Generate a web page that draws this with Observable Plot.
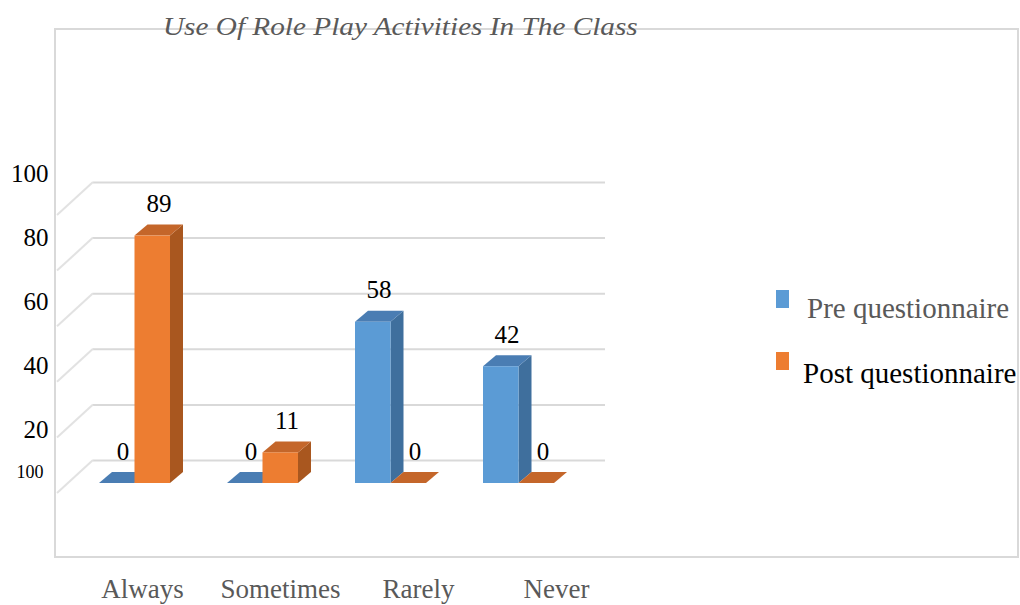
<!DOCTYPE html>
<html>
<head>
<meta charset="utf-8">
<script src="https://cdn.jsdelivr.net/npm/d3@7"></script>
<script src="https://cdn.jsdelivr.net/npm/@observablehq/plot@0.6"></script>
<style>
  body { margin: 0; background: #fff; }
  #wrap { position: relative; width: 1020px; height: 605px; overflow: hidden;
          font-family: "Liberation Serif", "Times New Roman", serif; }
  #box { position: absolute; left: 54px; top: 28px; width: 965px; height: 530px;
         border: 2px solid #d9d9d9; box-sizing: border-box; }
  #main, #axes { position: absolute; left: 0; top: 0; }
  #title { position: absolute; left: 163px; top: 14px; font-size: 26px; line-height: 1;
           font-style: italic; color: #595959; white-space: nowrap;
           transform: scaleX(1.125); transform-origin: 0 0; }
  .sw { position: absolute; width: 13px; height: 18px; }
  .lg { position: absolute; font-size: 29px; line-height: 1; white-space: nowrap;
        font-family: "Liberation Serif", "Times New Roman", serif; }
</style>
</head>
<body>
<div id="wrap">
  <div id="box"></div>
  <div id="main"></div>
  <div id="axes"></div>
  <div id="title"></div>
  <div id="legend"></div>
</div>
<script>
// ---- data ----
const categories = ["Always", "Sometimes", "Rarely", "Never"];
const seriesNames = ["Pre questionnaire", "Post questionnaire"];
const preValues = [0, 0, 58, 42];
const postValues = [89, 11, 0, 0];
const yTicks = [0, 20, 40, 60, 80, 100];
const yTickLabels = ["100", "20", "40", "60", "80", "100"];
const titleText = "Use Of Role Play Activities In The Class";

// ---- styles ----
const serif = '"Liberation Serif", "Times New Roman", serif';
const frontColors = ["#5b9bd5", "#ed7d31"];
const sideColors = ["#3f6f9d", "#a9571f"];
const topColors = ["#4a7db3", "#c4662a"];
const depthX = 13, depthY = -11;

const rows = [];
categories.forEach((c, i) => {
  rows.push({cat: c, s: 0, value: preValues[i]});
  rows.push({cat: c, s: 1, value: postValues[i]});
});

function bandwidthOf(scales) {
  const x = scales.x;
  if (x && typeof x.bandwidth === "function") return x.bandwidth();
  if (scales.scales && scales.scales.x) return scales.scales.x.bandwidth;
  return 0;
}

// side-wall diagonal lines (3D effect), drawn from the y scale
function wallLines(index, scales, values, dims) {
  const g = d3.create("svg:g");
  const x0 = dims.marginLeft;
  for (const t of yTicks) {
    const yy = scales.y(t);
    g.append("line")
      .attr("x1", x0 - 9).attr("y1", yy + 10)
      .attr("x2", x0 + 27).attr("y2", yy - 23)
      .attr("stroke", "#e2e2e2").attr("stroke-width", 2);
  }
  return g.node();
}

// 3D bars drawn through the x (band) and y scales
function bars3d(index, scales, values, dims) {
  const g = d3.create("svg:g");
  const bw = bandwidthOf(scales) / 2;
  const y0 = scales.y(0);
  for (const d of rows) {
    const xl = scales.x(d.cat) + d.s * bw;
    const xr = xl + bw;
    const yt = scales.y(d.value);
    g.append("path")
      .attr("d", `M${xr},${y0}L${xr + depthX},${y0 + depthY}L${xr + depthX},${yt + depthY}L${xr},${yt}Z`)
      .attr("fill", sideColors[d.s]);
    g.append("path")
      .attr("d", `M${xl},${yt}L${xl + depthX},${yt + depthY}L${xr + depthX},${yt + depthY}L${xr},${yt}Z`)
      .attr("fill", topColors[d.s]);
    if (y0 - yt > 0) {
      g.append("rect")
        .attr("x", xl).attr("y", yt).attr("width", bw).attr("height", y0 - yt)
        .attr("fill", frontColors[d.s]);
    }
  }
  return g.node();
}

const chart = Plot.plot({
  width: 1020,
  height: 605,
  marginLeft: 66,
  marginRight: 442,
  marginTop: 205,
  marginBottom: 122,
  x: {type: "band", domain: categories, paddingInner: 0.442, paddingOuter: 0.2055, align: 0.585, axis: null},
  y: {domain: [0, 100], axis: null},
  style: {fontFamily: serif, background: "transparent", overflow: "visible"},
  marks: [
    Plot.ruleY(yTicks, {stroke: "#d9d9d9", strokeWidth: 2, dx: 27, dy: -23}),
    wallLines,
    bars3d,
    Plot.text(rows.filter(d => d.s === 0), {x: "cat", y: "value", text: d => String(d.value), dx: -12, dy: -32, fontSize: 25, fontFamily: serif, fill: "#000"}),
    Plot.text(rows.filter(d => d.s === 1), {x: "cat", y: "value", text: d => String(d.value), dx: 24, dy: -32, fontSize: 25, fontFamily: serif, fill: "#000"})
  ]
});
document.getElementById("main").append(chart);

// tick labels of both axes (overlay with the reference's own label spacing)
const axesPlot = Plot.plot({
  width: 1020,
  height: 605,
  marginLeft: 141,
  marginRight: 464,
  marginTop: 173.5,
  marginBottom: 111,
  x: {type: "point", domain: categories, padding: 0},
  y: {domain: [0, 100]},
  style: {fontFamily: serif, background: "transparent", overflow: "visible"},
  marks: [
    Plot.axisY(yTicks.filter(t => t > 0), {tickSize: 0, tickPadding: 93, fontSize: 25, color: "#000", label: null,
      tickFormat: t => yTickLabels[yTicks.indexOf(t)]}),
    Plot.axisY([0], {tickSize: 0, tickPadding: 98, fontSize: 18, dy: -22, color: "#000", label: null,
      tickFormat: t => yTickLabels[yTicks.indexOf(t)]}),
    Plot.axisX({tickSize: 0, tickPadding: 84, fontSize: 27, color: "#595959", label: null})
  ]
});
document.getElementById("axes").append(axesPlot);

document.getElementById("title").textContent = titleText;

// legend
const legend = document.getElementById("legend");
const legendPos = [{sq: 290, tx: 293.5, left: 807, color: "#595959"}, {sq: 352, tx: 358.5, left: 803, color: "#000"}];
seriesNames.forEach((name, i) => {
  const sw = document.createElement("div");
  sw.className = "sw";
  sw.style.left = "776px";
  sw.style.top = legendPos[i].sq + "px";
  sw.style.background = frontColors[i];
  legend.append(sw);
  const t = document.createElement("div");
  t.className = "lg";
  t.style.left = legendPos[i].left + "px";
  t.style.top = legendPos[i].tx + "px";
  t.style.color = legendPos[i].color;
  t.textContent = name;
  legend.append(t);
});
</script>
</body>
</html>
